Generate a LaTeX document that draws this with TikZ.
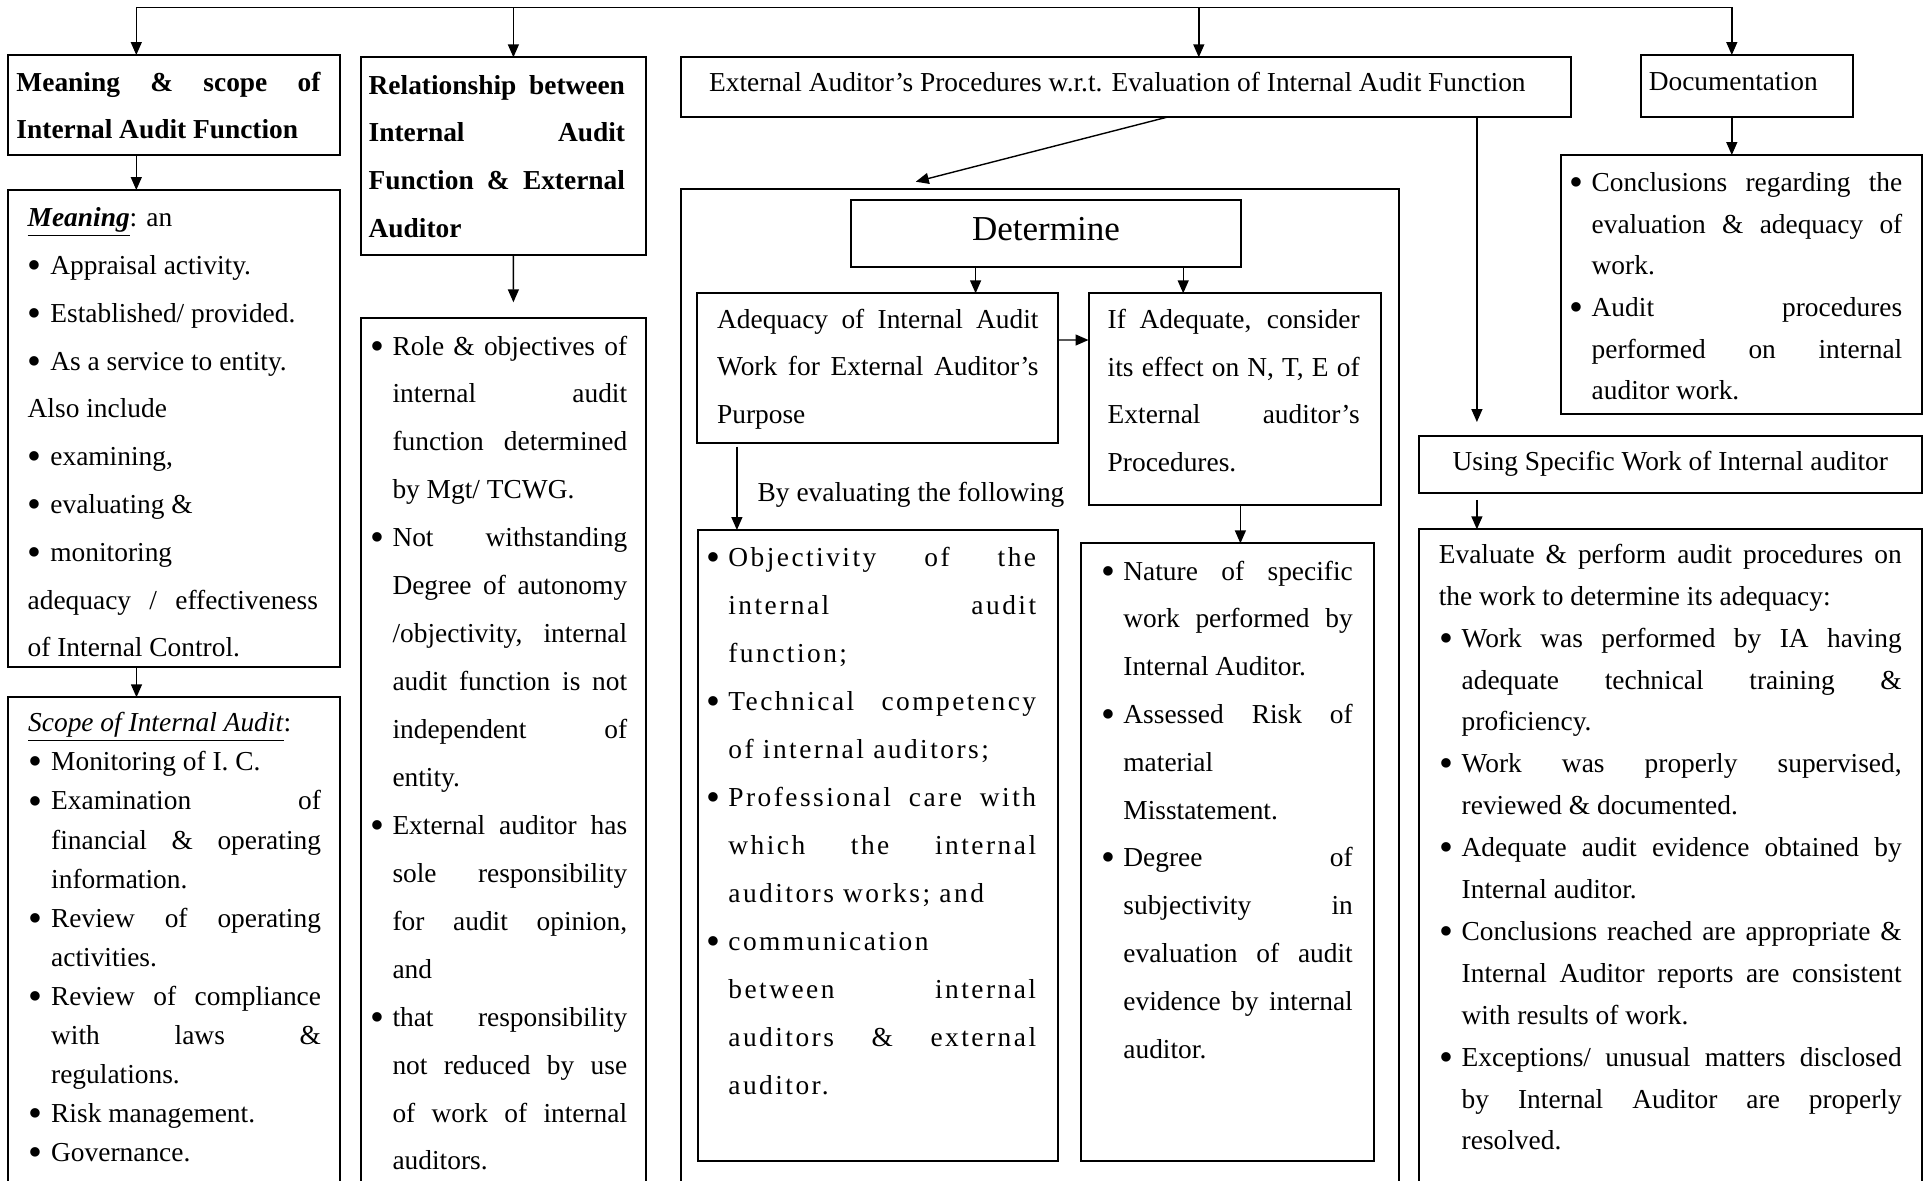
\documentclass[tikz,border=0pt]{standalone}
\usepackage{graphicx}
\usepackage{fontspec}
\setmainfont{Liberation Serif}
\newfontfamily\spaced[LetterSpace=9,Ligatures=TeX]{Liberation Serif}
\usetikzlibrary{arrows.meta,calc,fit}

% hanging indent of bullet lines, and offset of the bullet itself
\newlength\hg
\newlength\bo
\newcommand\bul{\raisebox{-0.15em}{\scalebox{1.45}{\textbullet}}}
% xPJ/xPL: plain justified / plain last line
% xBJ/xBL: bullet line justified / left
% xIJ/xIL: indented continuation line justified / left
\newcommand\xPJ[1]{\noindent\makebox[\hsize][s]{#1}\par}
\newcommand\xPL[1]{\noindent #1\par}
\newcommand\xBJ[1]{\noindent\makebox[\hg][l]{\hspace*{\bo}\bul}\makebox[\dimexpr\hsize-\hg\relax][s]{#1}\par}
\newcommand\xBL[1]{\noindent\makebox[\hg][l]{\hspace*{\bo}\bul}#1\par}
\newcommand\xIJ[1]{\noindent\hspace*{\hg}\makebox[\dimexpr\hsize-\hg\relax][s]{#1}\par}
\newcommand\xIL[1]{\noindent\hspace*{\hg}#1\par}
% text block: width, baselineskip, hang, bullet offset, lines
\newcommand\blk[5]{\vtop{\hsize=#1\relax\setlength\hg{#3}\setlength\bo{#4}%
  \parindent=0pt\parskip=0pt\hbadness=10000\hfuzz=6pt%
  \fontsize{13.7pt}{#2}\selectfont #5}}

\tikzset{
  boxline/.style={draw, line width=1pt, inner sep=0pt, outer sep=0pt},
  txt/.style={anchor=base west, inner sep=0pt, outer sep=0pt},
  arr/.style={-{Triangle[length=6.5pt,width=5.5pt]}, line width=0.7pt},
}

\begin{document}
\begin{tikzpicture}[x=0.5pt,y=-0.5pt]
\path[use as bounding box, fill=white] (0,0) rectangle (1929,1180);
\begin{scope}
\clip (0,0) rectangle (1929,1180);

% ---------- boxes ----------
\node[boxline, fit={(8,55) (340,155.3)}] (A) {};
\node[boxline, fit={(8,190) (340,667.3)}] (B) {};
\node[boxline, fit={(8,697.3) (340,1200)}] (C) {};
\node[boxline, fit={(360.7,57.3) (645.5,255)}] (D) {};
\node[boxline, fit={(361,318.3) (645.8,1200)}] (E) {};
\node[boxline, fit={(681.4,57.3) (1571,116.7)}] (G) {};
\node[boxline, fit={(681.4,189.3) (1398.7,1200)}] (H) {};
\node[boxline, fit={(851,200) (1241.2,266.7)}] (I) {};
\node[boxline, fit={(696.6,293.3) (1058,442.7)}] (J) {};
\node[boxline, fit={(1088.5,293.3) (1381,505)}] (K) {};
\node[boxline, fit={(697.8,530) (1057.8,1160.7)}] (L) {};
\node[boxline, fit={(1081,543.3) (1373.5,1160.7)}] (M) {};
\node[boxline, fit={(1640.5,55) (1852.8,116.7)}] (N) {};
\node[boxline, fit={(1561,155) (1922,414)}] (O) {};
\node[boxline, fit={(1418.6,436) (1922,492.7)}] (P) {};
\node[boxline, fit={(1418.6,529.3) (1922,1200)}] (Q) {};

% ---------- texts ----------
\node[txt] (Atxt) at (16.5,91.7) {\blk{152pt}{23.35pt}{0pt}{0pt}{\bfseries
  \xPJ{Meaning \& scope of}
  \xPL{Internal Audit Function}}};

\node[txt] (Btxt) at (27.7,226.7) {\blk{145.1pt}{23.9pt}{11.35pt}{0pt}{%
  \xPL{\underline{\textbf{\textit{Meaning}}}: an}
  \xBL{Appraisal activity.}
  \xBL{Established/ provided.}
  \xBL{As a service to entity.}
  \xPL{Also include}
  \xBL{examining,}
  \xBL{evaluating \&}
  \xBL{monitoring}
  \xPJ{adequacy / effectiveness}
  \xPL{of Internal Control.}}};

\node[txt] (Ctxt) at (28.2,731.7) {\blk{146.4pt}{19.55pt}{11.5pt}{0.4pt}{%
  \xPL{\underline{\textit{Scope of Internal Audit}}:}
  \xBL{Monitoring of I. C.}
  \xBJ{Examination of}
  \xIJ{financial \& operating}
  \xIL{information.}
  \xBJ{Review of operating}
  \xIL{activities.}
  \xBJ{Review of compliance}
  \xIJ{with laws \&}
  \xIL{regulations.}
  \xBL{Risk management.}
  \xBL{Governance.}}};

\node[txt] (Dtxt) at (368.7,94) {\blk{128.15pt}{23.85pt}{0pt}{0pt}{\bfseries
  \xPJ{Relationship between}
  \xPJ{Internal Audit}
  \xPJ{Function \& External}
  \xPL{Auditor}}};

\node[txt] (Etxt) at (370.4,355) {\blk{128.4pt}{23.97pt}{11.05pt}{0pt}{%
  \xBJ{Role \& objectives of}
  \xIJ{internal audit}
  \xIJ{function determined}
  \xIL{by Mgt/ TCWG.}
  \xBJ{Not withstanding}
  \xIJ{Degree of autonomy}
  \xIJ{/objectivity, internal}
  \xIJ{audit function is not}
  \xIJ{independent of}
  \xIL{entity.}
  \xBJ{External auditor has}
  \xIJ{sole responsibility}
  \xIJ{for audit opinion,}
  \xIL{and}
  \xBJ{that responsibility}
  \xIJ{not reduced by use}
  \xIJ{of work of internal}
  \xIL{auditors.}}};

\node[txt] (Gtxt) at (709.1,91.7) {\fontsize{13.7pt}{16pt}\selectfont
  External Auditor’s Procedures w.r.t. Evaluation of Internal Audit Function};

\node[anchor=base, inner sep=0pt] (Itxt) at (1046,240) {\fontsize{17.5pt}{20pt}\selectfont Determine};

\node[txt] (Jtxt) at (717.1,328.3) {\blk{160.75pt}{23.75pt}{0pt}{0pt}{%
  \xPJ{Adequacy of Internal Audit}
  \xPJ{Work for External Auditor’s}
  \xPL{Purpose}}};

\node[txt] (Ktxt) at (1107.7,328.3) {\blk{126pt}{23.9pt}{0pt}{0pt}{%
  \xPJ{If Adequate, consider}
  \xPJ{its effect on N, T, E of}
  \xPJ{External auditor’s}
  \xPL{Procedures.}}};

\node[txt] (lbl) at (757.7,501.7) {\fontsize{13.7pt}{16pt}\selectfont By evaluating the following};

\node[txt] (Ltxt) at (706.2,566.7) {\blk{164.95pt}{24pt}{11.1pt}{0pt}{\spaced
  \xBJ{Objectivity of the}
  \xIJ{internal audit}
  \xIL{function;}
  \xBJ{Technical competency}
  \xIL{of internal auditors;}
  \xBJ{Professional care with}
  \xIJ{which the internal}
  \xIL{auditors works; and}
  \xBL{communication}
  \xIJ{between internal}
  \xIJ{auditors \& external}
  \xIL{auditor.}}};

\node[txt] (Mtxt) at (1101.2,580) {\blk{125.8pt}{23.9pt}{11.1pt}{0pt}{%
  \xBJ{Nature of specific}
  \xIJ{work performed by}
  \xIL{Internal Auditor.}
  \xBJ{Assessed Risk of}
  \xIL{material}
  \xIL{Misstatement.}
  \xBJ{Degree of}
  \xIJ{subjectivity in}
  \xIJ{evaluation of audit}
  \xIJ{evidence by internal}
  \xIL{auditor.}}};

\node[txt] (Ntxt) at (1648.8,90.7) {\fontsize{13.7pt}{16pt}\selectfont Documentation};

\node[txt] (Otxt) at (1569,191.7) {\blk{166.65pt}{20.8pt}{11.35pt}{0pt}{%
  \xBJ{Conclusions regarding the}
  \xIJ{evaluation \& adequacy of}
  \xIL{work.}
  \xBJ{Audit procedures}
  \xIJ{performed on internal}
  \xIL{auditor work.}}};

\node[anchor=base, inner sep=0pt] (Ptxt) at (1670.3,470) {\fontsize{13.7pt}{16pt}\selectfont
  Using Specific Work of Internal auditor};

\node[txt] (Qtxt) at (1438.8,563.3) {\blk{231.45pt}{20.95pt}{11.45pt}{0.4pt}{%
  \xPJ{Evaluate \& perform audit procedures on}
  \xPL{the work to determine its adequacy:}
  \xBJ{Work was performed by IA having}
  \xIJ{adequate technical training \&}
  \xIL{proficiency.}
  \xBJ{Work was properly supervised,}
  \xIL{reviewed \& documented.}
  \xBJ{Adequate audit evidence obtained by}
  \xIL{Internal auditor.}
  \xBJ{Conclusions reached are appropriate \&}
  \xIJ{Internal Auditor reports are consistent}
  \xIL{with results of work.}
  \xBJ{Exceptions/ unusual matters disclosed}
  \xIJ{by Internal Auditor are properly}
  \xIL{resolved.}}};

% ---------- connectors ----------
\coordinate (busL) at (136.3,7.3);
\coordinate (busR) at (1731.8,7.3);
\draw[line width=0.7pt] (busL) -- (busR);
\draw[arr] (busL) -- ($(A.north west)+(128.3,0)$);
\coordinate (dIn) at ($(D.north west)+(152.7,0)$);
\draw[arr] (dIn |- busL) -- (dIn);
\coordinate (gIn) at ($(G.north west)+(517.4,0)$);
\draw[arr] (gIn |- busL) -- (gIn);
\draw[arr] (busR) -- ($(N.north west)+(91.3,0)$);

\draw[arr] ($(A.south west)+(128.3,0)$) -- ($(B.north west)+(128.3,0)$);
\draw[arr] ($(B.south west)+(128.5,0)$) -- ($(C.north west)+(128.5,0)$);
\draw[arr, shorten >=8pt] ($(D.south west)+(152.7,0)$) -- ($(E.north west)+(152.4,0)$);

\coordinate (hIn) at (915.8,181.7);
\draw[arr] ($(G.south west)+(487.5,0)$) -- (hIn);
\draw[arr, shorten >=7pt] ($(G.south west)+(795.5,0)$) -- ($(P.north west)+(58.3,0)$);

\draw[arr] ($(I.south west)+(124.6,0)$) -- ($(J.north west)+(279,0)$);
\draw[arr] ($(I.south west)+(332.2,0)$) -- ($(K.north west)+(94.7,0)$);
\draw[arr] ($(J.north east)+(0,46.7)$) -- ($(K.north west)+(0,46.7)$);
\draw[arr, shorten <=2pt] ($(J.south west)+(40.3,0)$) -- ($(L.north west)+(39.1,0)$);
\draw[arr] ($(K.south west)+(151.9,0)$) -- ($(M.north west)+(159.4,0)$);

\draw[arr] ($(N.south west)+(91.3,0)$) -- ($(O.north west)+(170.8,0)$);
\draw[arr, shorten <=3.6pt] ($(P.south west)+(58.3,0)$) -- ($(Q.north west)+(58.3,0)$);
\end{scope}
\end{tikzpicture}
\end{document}
